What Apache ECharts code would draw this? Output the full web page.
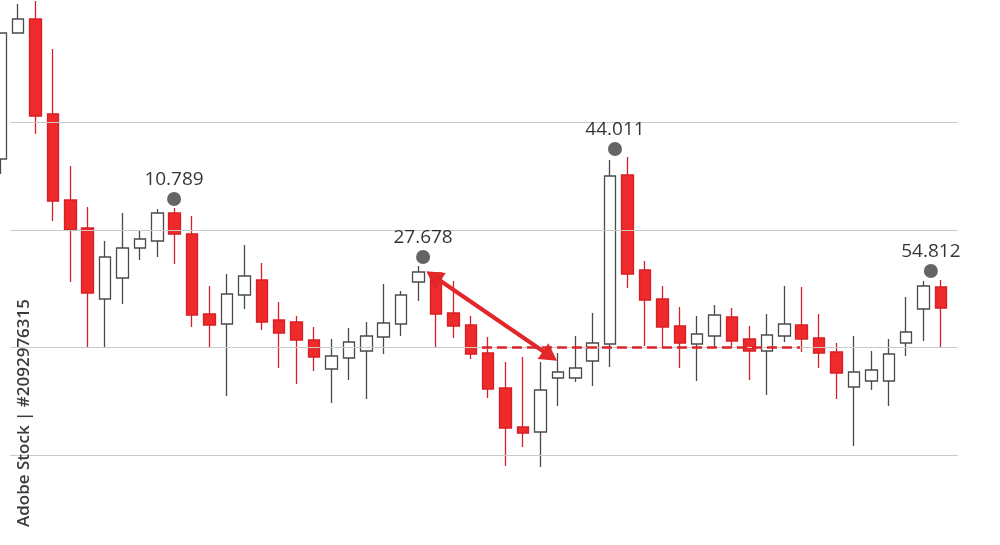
<!DOCTYPE html>
<html>
<head>
<meta charset="utf-8">
<script src="https://cdn.jsdelivr.net/npm/echarts@6/dist/echarts.min.js"></script>
<style>html,body{margin:0;padding:0;background:#fff}#c{width:1000px;height:545px}</style>
</head>
<body>
<div id="c"></div>
<script>
// ---- data (price units of the chart) ----
const categories = Array.from({length: 55}, (_, i) => 'D' + (i + 1));
const opens  = [38.6,51.2,52.6,43.1,34.5,31.7,24.6,26.7,29.7,30.4,33.2,31.1,23.1,22.1,25.0,26.5,22.5,22.3,20.5,17.6,18.7,19.4,20.8,22.1,26.3,27.2,23.2,22.0,19.2,15.7,11.8,11.3,16.7,16.7,18.4,20.1,37.0,27.5,24.6,21.9,20.1,20.9,22.8,20.6,19.4,20.9,22.0,20.7,19.3,15.8,16.4,16.4,20.2,23.6,25.8];
const closes = [51.2,52.6,42.9,34.4,31.5,25.2,28.8,29.7,30.6,33.2,31.1,23.0,22.0,25.1,26.9,22.3,21.2,20.5,18.8,18.9,20.3,20.9,22.2,25.0,27.3,23.1,21.9,19.1,15.6,11.7,11.2,15.5,17.3,17.7,20.2,36.9,27.1,24.5,21.8,20.2,21.1,23.0,20.4,19.4,21.0,22.1,20.6,19.2,17.2,17.3,17.5,19.1,21.3,25.9,23.7];
const lows   = [37.1,51.2,41.1,32.4,26.3,19.7,19.7,24.1,28.5,28.8,28.1,21.8,19.7,14.9,23.6,21.5,17.7,16.1,17.4,14.2,16.5,14.6,19.1,20.9,24.4,19.8,20.7,18.6,14.7,7.9,9.8,7.8,13.9,16.3,15.9,17.8,25.7,19.9,19.8,17.7,16.4,19.8,19.7,16.5,15.0,20.3,19.3,17.7,14.6,9.9,15.5,13.9,18.9,20.4,19.8];
const highs  = [51.2,54.1,54.4,49.6,37.9,33.8,30.4,33.2,31.5,33.6,33.7,32.9,25.9,27.1,30.0,28.2,24.3,22.9,21.8,20.6,21.7,22.3,26.1,25.4,27.9,27.2,26.4,22.9,20.8,18.3,18.8,18.3,19.2,20.9,23.2,38.5,38.8,28.4,25.9,23.8,22.9,24.0,23.7,21.9,23.1,25.9,25.8,23.1,20.2,20.9,19.4,20.6,24.8,26.4,26.5];

// horizontal reference levels
const gridLevels = [42.3, 31.5, 19.75, 9.0];

// annotated peaks: [x position in candle index units, price, label]
const peakX      = [9.96, 24.26, 35.28, 53.42];
const peakY      = [34.6, 28.8, 39.6, 27.4];
const peakLabels = ['10.789', '27.678', '44.011', '54.812'];

// arrow and dashed support line (candle index units, price)
const arrowFrom = [24.85, 26.9];
const arrowTo   = [31.55, 18.9];
const supportFrom = [27.64, 19.75];
const supportTo   = [45.9, 19.75];

const candleData = categories.map((c, i) => [opens[i], closes[i], lows[i], highs[i]]);
const peakData = peakX.map((x, i) => [x, peakY[i], peakLabels[i]]);

const chart = echarts.init(document.getElementById('c'), null, {renderer: 'canvas'});
chart.setOption({
  animation: false,
  backgroundColor: '#ffffff',
  grid: [
    {left: 0.6, right: 59, top: 0, bottom: 0},
    {left: 10, right: 42, top: 0, bottom: 0}
  ],
  xAxis: [
    {type: 'category', data: categories, gridIndex: 0, show: false, boundaryGap: false},
    {type: 'value', gridIndex: 0, min: 0, max: 54, show: false},
    {type: 'value', gridIndex: 1, min: 0, max: 1, show: false}
  ],
  yAxis: [
    {type: 'value', gridIndex: 0, min: 0, max: 54.5, show: false, splitLine: {show: false}},
    {type: 'value', gridIndex: 1, min: 0, max: 54.5, show: false, splitLine: {show: false}}
  ],
  graphic: [{
    type: 'text',
    x: 24, y: 413,
    rotation: Math.PI / 2,
    style: {
      text: 'Adobe Stock | #2092976315',
      fill: '#3c3c3c',
      font: '600 17px "Open Sans", sans-serif',
      align: 'center',
      verticalAlign: 'middle'
    },
    z: 100
  }],
  series: [
    {
      type: 'line',
      xAxisIndex: 2, yAxisIndex: 1,
      data: [],
      silent: true,
      z: 1,
      markLine: {
        silent: true,
        symbol: 'none',
        label: {show: false},
        lineStyle: {color: '#c9c9c9', width: 1.2, type: 'solid'},
        data: gridLevels.map(v => ({yAxis: v}))
      }
    },
    {
      type: 'candlestick',
      xAxisIndex: 0, yAxisIndex: 0,
      data: candleData,
      barWidth: 12,
      clip: false,
      z: 3,
      itemStyle: {
        color: '#ffffff',
        color0: '#ee2a2a',
        borderColor: '#4a4a4a',
        borderColor0: '#d61f26',
        borderWidth: 1.3
      }
    },
    {
      type: 'scatter',
      xAxisIndex: 1, yAxisIndex: 0,
      data: peakData,
      symbol: 'circle',
      symbolSize: 14,
      z: 5,
      itemStyle: {color: '#3d3d3d'},
      label: {
        show: true,
        position: 'top',
        distance: 3,
        formatter: p => p.data[2],
        color: '#000000',
        fontSize: 19,
        fontFamily: '"Open Sans", sans-serif'
      },
      markLine: {
        silent: true,
        label: {show: false},
        z: 6,
        data: [
          [
            {coord: arrowFrom, symbol: 'triangle', symbolSize: [19, 17], lineStyle: {color: '#e3262a', width: 4, type: 'solid'}},
            {coord: arrowTo, symbol: 'triangle', symbolSize: [19, 17]}
          ],
          [
            {coord: supportFrom, symbol: 'none', lineStyle: {color: '#d9262b', width: 2.5, type: [10, 5]}},
            {coord: supportTo, symbol: 'none'}
          ]
        ]
      }
    }
  ]
});
</script>
</body>
</html>
